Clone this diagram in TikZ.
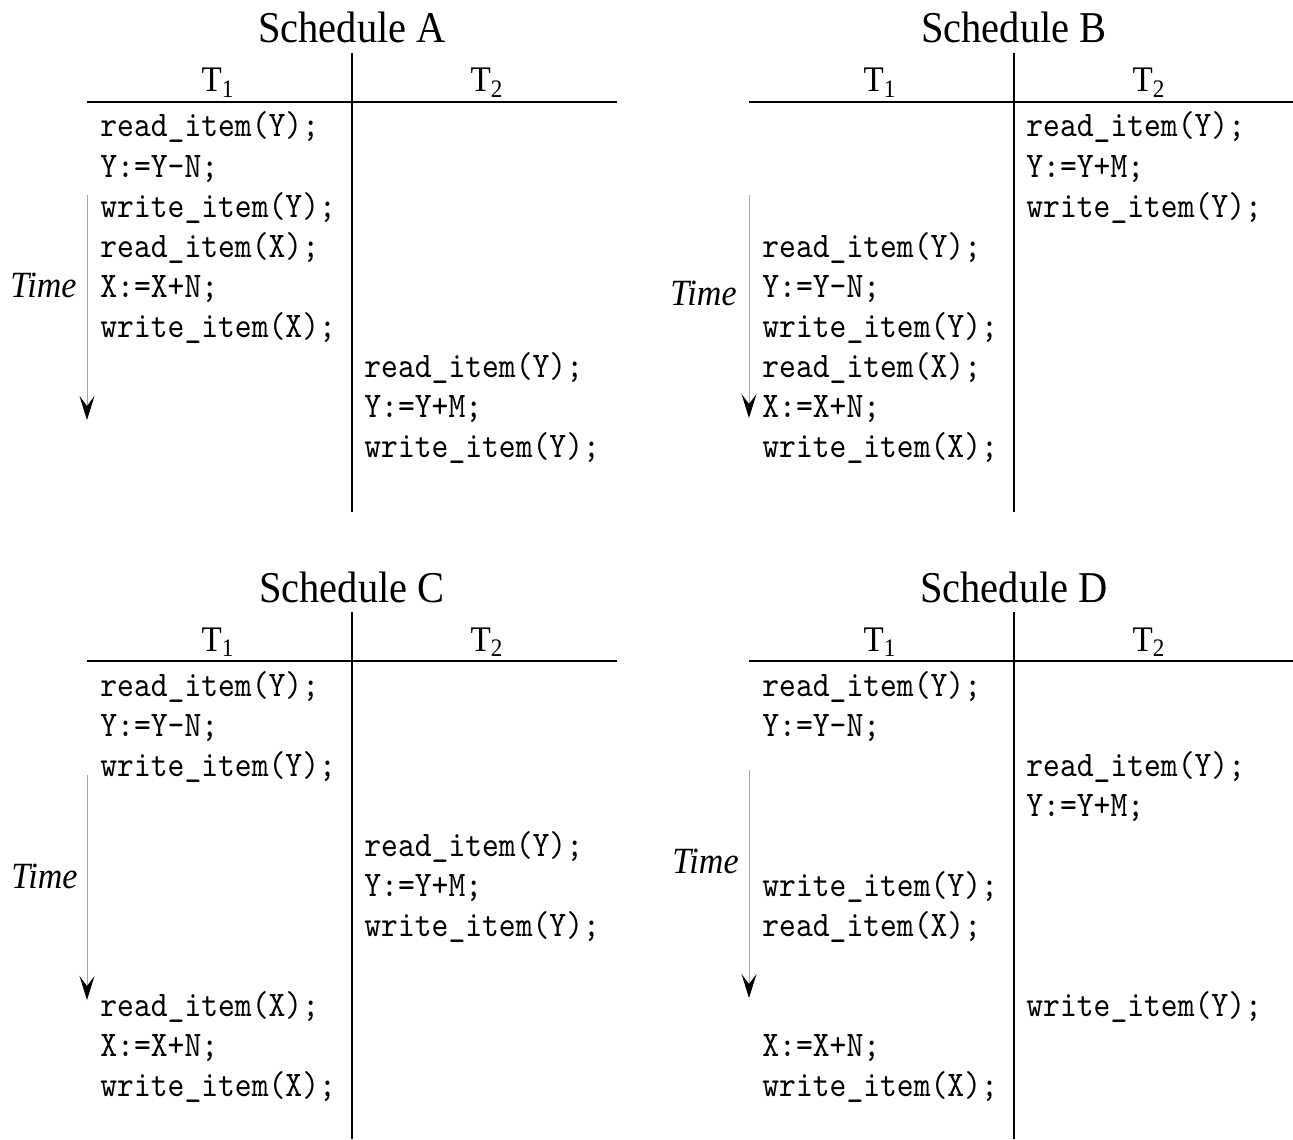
\documentclass[tikz,border=0pt]{standalone}
\usepackage{fontspec}
\setmainfont{Liberation Serif}[FakeStretch=0.92]
\newfontfamily\codefont{lmmono10-regular}[Extension=.otf,FakeStretch=0.89]
\usetikzlibrary{arrows.meta}

\begin{document}
\begin{tikzpicture}[x=0.5pt,y=-0.5pt]
            \tikzstyle{ttl}=[anchor=base,inner sep=0pt,font=\fontsize{22}{22}\selectfont]
            \tikzstyle{hd}=[anchor=base,inner sep=0pt,font=\fontsize{18}{18}\selectfont]
            \tikzstyle{op}=[anchor=base west,inner sep=0pt,font=\codefont\fontsize{18}{18}\selectfont]
            \tikzstyle{tm}=[anchor=base east,inner sep=0pt,font=\itshape\fontsize{18.5}{18.5}\selectfont]
            \tikzstyle{rule}=[black,line width=1pt]
            \tikzstyle{flow}=[gray!70,line width=0.5pt,-{Stealth[black,length=12pt,width=7.5pt,inset=5pt]}]

            \useasboundingbox (0,0) rectangle (1293,1139);

            % Schedule A
            \begin{scope}
              \node [ttl] (aT) at (352,43) {Schedule A};
              \coordinate (aV1) at (352,53);
              \coordinate (aV2) at (352,512);
              \coordinate (aH1) at (87,102);
              \coordinate (aH2) at (617,102);
              \draw [rule] (aV1) -- (aV2);
              \draw [rule] (aH1) -- (aH2);
              \node [hd] (a1) at (218,92) {T\textsubscript{1}};
              \node [hd] (a2) at (487,92) {T\textsubscript{2}};
              \node [op] (a1r) at (100,137) {read\_item(Y);};
              \node [op] (a1c) at (100,177) {Y:=Y-N;};
              \node [op] (a1w) at (100,217) {write\_item(Y);};
              \node [op] (a1x) at (100,257) {read\_item(X);};
              \node [op] (a1d) at (100,297) {X:=X+N;};
              \node [op] (a1y) at (100,337) {write\_item(X);};
              \node [op] (a2r) at (364,377) {read\_item(Y);};
              \node [op] (a2c) at (364,417) {Y:=Y+M;};
              \node [op] (a2w) at (364,457) {write\_item(Y);};
              \coordinate (aS) at (87,195);
              \coordinate (aE) at (87,420);
              \draw [flow] (aS) -- (aE);
              \node [tm] (aTm) at (77,297) {Time};
            \end{scope}

            % Schedule B
            \begin{scope}[shift={(662,0)}]
              \node [ttl] (bT) at (352,43) {Schedule B};
              \coordinate (bV1) at (352,53);
              \coordinate (bV2) at (352,512);
              \coordinate (bH1) at (87,102);
              \coordinate (bH2) at (631,102);
              \draw [rule] (bV1) -- (bV2);
              \draw [rule] (bH1) -- (bH2);
              \node [hd] (b1) at (218,92) {T\textsubscript{1}};
              \node [hd] (b2) at (487,92) {T\textsubscript{2}};
              \node [op] (b2r) at (364,137) {read\_item(Y);};
              \node [op] (b2c) at (364,177) {Y:=Y+M;};
              \node [op] (b2w) at (364,217) {write\_item(Y);};
              \node [op] (b1r) at (100,257) {read\_item(Y);};
              \node [op] (b1c) at (100,297) {Y:=Y-N;};
              \node [op] (b1w) at (100,337) {write\_item(Y);};
              \node [op] (b1x) at (100,377) {read\_item(X);};
              \node [op] (b1d) at (100,417) {X:=X+N;};
              \node [op] (b1y) at (100,457) {write\_item(X);};
              \coordinate (bS) at (87,195);
              \coordinate (bE) at (87,418);
              \draw [flow] (bS) -- (bE);
              \node [tm] (bTm) at (75,305) {Time};
            \end{scope}

            % Schedule C
            \begin{scope}[shift={(0,559)}]
              \node [ttl] (cT) at (352,43) {Schedule C};
              \coordinate (cV1) at (352,53);
              \coordinate (cV2) at (352,580);
              \coordinate (cH1) at (87,102);
              \coordinate (cH2) at (617,102);
              \draw [rule] (cV1) -- (cV2);
              \draw [rule] (cH1) -- (cH2);
              \node [hd] (c1) at (218,92) {T\textsubscript{1}};
              \node [hd] (c2) at (487,92) {T\textsubscript{2}};
              \node [op] (c1r) at (100,137) {read\_item(Y);};
              \node [op] (c1c) at (100,177) {Y:=Y-N;};
              \node [op] (c1w) at (100,217) {write\_item(Y);};
              \node [op] (c2r) at (364,297) {read\_item(Y);};
              \node [op] (c2c) at (364,337) {Y:=Y+M;};
              \node [op] (c2w) at (364,377) {write\_item(Y);};
              \node [op] (c1x) at (100,457) {read\_item(X);};
              \node [op] (c1d) at (100,497) {X:=X+N;};
              \node [op] (c1y) at (100,537) {write\_item(X);};
              \coordinate (cS) at (87,216);
              \coordinate (cE) at (87,441);
              \draw [flow] (cS) -- (cE);
              \node [tm] (cTm) at (78,329) {Time};
            \end{scope}

            % Schedule D
            \begin{scope}[shift={(662,559)}]
              \node [ttl] (dT) at (352,43) {Schedule D};
              \coordinate (dV1) at (352,53);
              \coordinate (dV2) at (352,580);
              \coordinate (dH1) at (87,102);
              \coordinate (dH2) at (631,102);
              \draw [rule] (dV1) -- (dV2);
              \draw [rule] (dH1) -- (dH2);
              \node [hd] (d1) at (218,92) {T\textsubscript{1}};
              \node [hd] (d2) at (487,92) {T\textsubscript{2}};
              \node [op] (d1r) at (100,137) {read\_item(Y);};
              \node [op] (d1c) at (100,177) {Y:=Y-N;};
              \node [op] (d2r) at (364,217) {read\_item(Y);};
              \node [op] (d2c) at (364,257) {Y:=Y+M;};
              \node [op] (d1w) at (100,337) {write\_item(Y);};
              \node [op] (d1x) at (100,377) {read\_item(X);};
              \node [op] (d2w) at (364,457) {write\_item(Y);};
              \node [op] (d1d) at (100,497) {X:=X+N;};
              \node [op] (d1y) at (100,537) {write\_item(X);};
              \coordinate (dS) at (87,211);
              \coordinate (dE) at (87,439);
              \draw [flow] (dS) -- (dE);
              \node [tm] (dTm) at (77,314) {Time};
            \end{scope}
        \end{tikzpicture}
\end{document}
